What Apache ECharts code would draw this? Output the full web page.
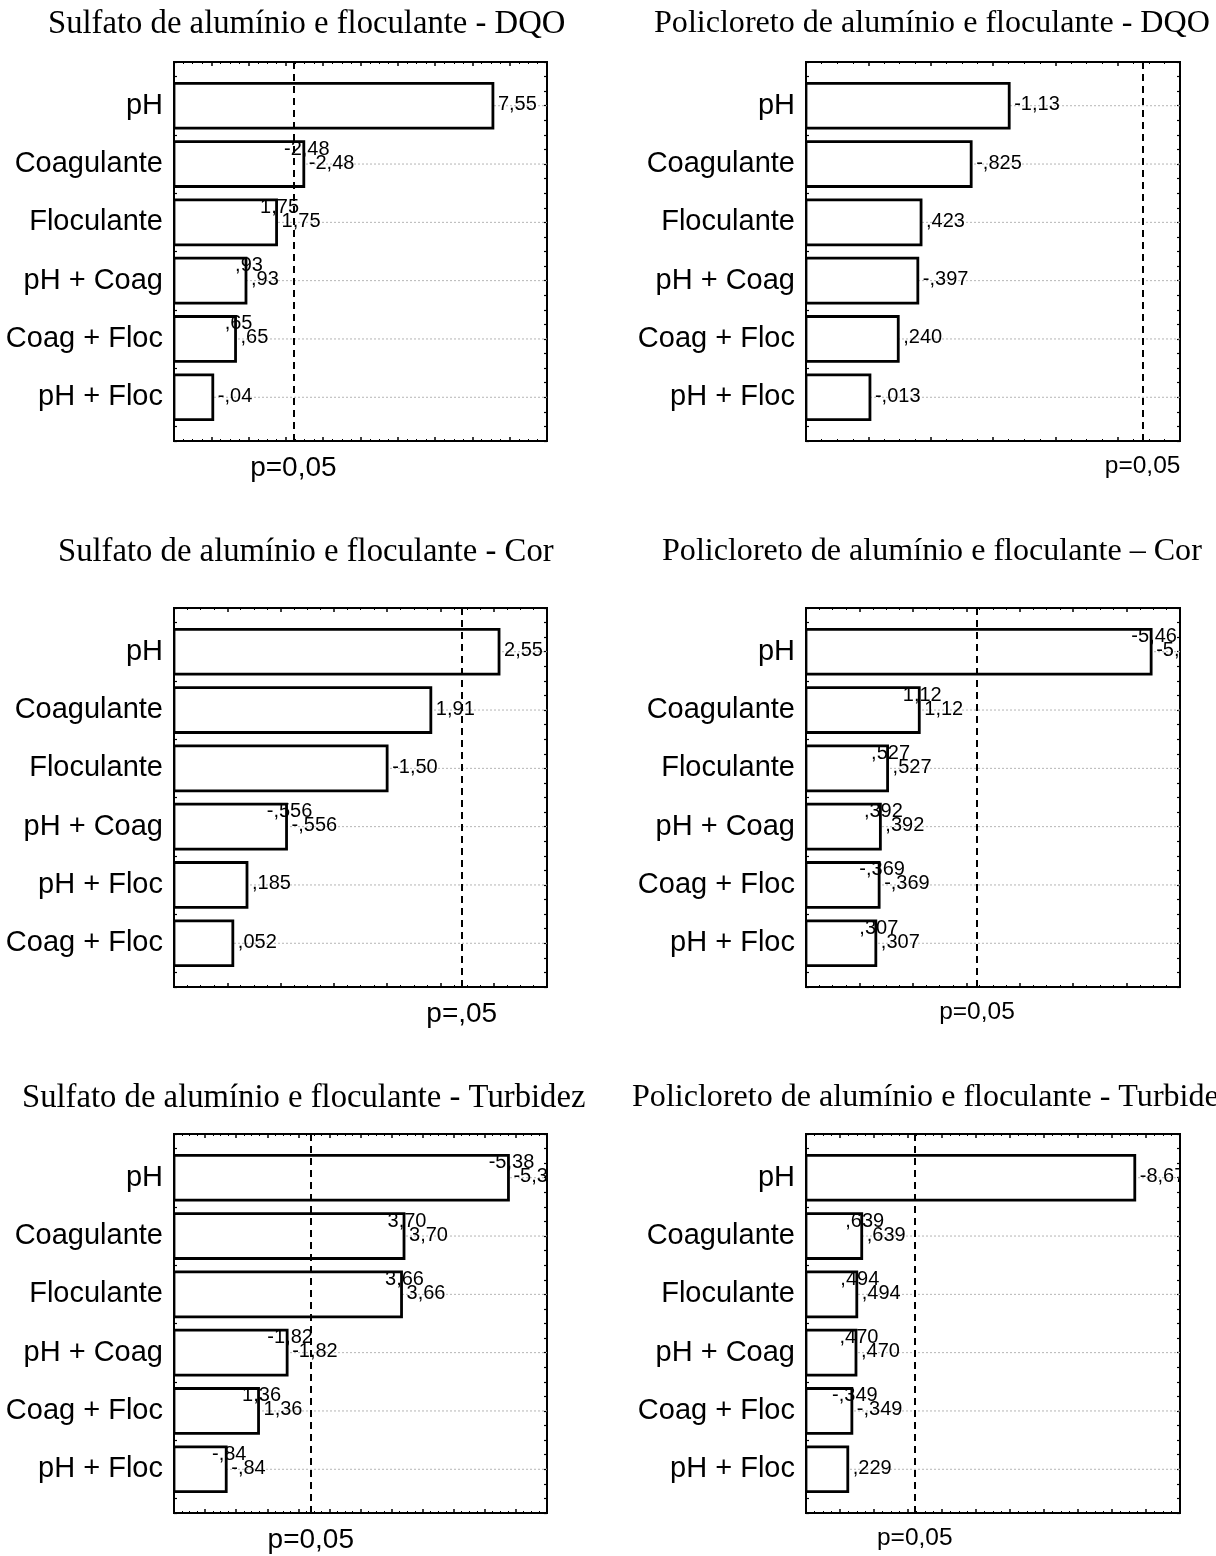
<!DOCTYPE html>
<html>
<head>
<meta charset="utf-8">
<script src="https://cdn.jsdelivr.net/npm/echarts@6/dist/echarts.min.js"></script>
<style>
html,body{margin:0;padding:0;background:#fff;}
#chart{width:1216px;height:1556px;}
</style>
</head>
<body>
<div id="chart"></div>
<script>
// ---------- DATA ----------
const titles = [
  'Sulfato de alumínio e floculante - DQO',
  'Policloreto de alumínio e floculante - DQO',
  'Sulfato de alumínio e floculante - Cor',
  'Policloreto de alumínio e floculante – Cor',
  'Sulfato de alumínio e floculante - Turbidez',
  'Policloreto de alumínio e floculante - Turbidez'
];

const sulfDqoCats   = ['pH', 'Coagulante', 'Floculante', 'pH + Coag', 'Coag + Floc', 'pH + Floc'];
const sulfDqoValues = [7.55, -2.48, 1.75, 0.93, 0.65, -0.04];
const sulfDqoDup    = [0, 1, 1, 1, 1, 0];

const pacDqoCats    = ['pH', 'Coagulante', 'Floculante', 'pH + Coag', 'Coag + Floc', 'pH + Floc'];
const pacDqoValues  = [-1.13, -0.825, 0.423, -0.397, 0.240, -0.013];
const pacDqoDup     = [0, 0, 0, 0, 0, 0];

const sulfCorCats   = ['pH', 'Coagulante', 'Floculante', 'pH + Coag', 'pH + Floc', 'Coag + Floc'];
const sulfCorValues = [2.55, 1.91, -1.50, -0.556, 0.185, 0.052];
const sulfCorDup    = [0, 0, 0, 1, 0, 0];

const pacCorCats    = ['pH', 'Coagulante', 'Floculante', 'pH + Coag', 'Coag + Floc', 'pH + Floc'];
const pacCorValues  = [-5.46, 1.12, 0.527, 0.392, -0.369, 0.307];
const pacCorDup     = [1, 1, 1, 1, 1, 1];

const sulfTurbCats   = ['pH', 'Coagulante', 'Floculante', 'pH + Coag', 'Coag + Floc', 'pH + Floc'];
const sulfTurbValues = [-5.38, 3.70, 3.66, -1.82, 1.36, -0.84];
const sulfTurbDup    = [1, 1, 1, 1, 1, 1];

const pacTurbCats    = ['pH', 'Coagulante', 'Floculante', 'pH + Coag', 'Coag + Floc', 'pH + Floc'];
const pacTurbValues  = [-8.67, 0.639, 0.494, 0.470, -0.349, 0.229];
const pacTurbDup     = [0, 1, 1, 1, 1, 0];

// significance threshold (t value at p = 0.05) and its labels
const critT = [2.2, 2.2, 2.2, 2.2, 2.2, 2.2];
const pLabels = ['p=0,05', 'p=0,05', 'p=,05', 'p=0,05', 'p=0,05', 'p=0,05'];

// x-axis scale per panel (no tick labels shown)
const xMins      = [-1, -0.5, -0.5, -1, 0, -1];
const xMaxs      = [9, 2.5, 3, 6, 6, 10];
const xIntervals = [1, 0.5, 0.5, 1, 0.5, 1];

// number format: 'fixed2' or 'auto'
const numFormats = ['fixed2', 'auto', 'auto', 'auto', 'fixed2', 'auto'];

const panelsData = [
  {cats: sulfDqoCats,  values: sulfDqoValues,  dup: sulfDqoDup},
  {cats: pacDqoCats,   values: pacDqoValues,   dup: pacDqoDup},
  {cats: sulfCorCats,  values: sulfCorValues,  dup: sulfCorDup},
  {cats: pacCorCats,   values: pacCorValues,   dup: pacCorDup},
  {cats: sulfTurbCats, values: sulfTurbValues, dup: sulfTurbDup},
  {cats: pacTurbCats,  values: pacTurbValues,  dup: pacTurbDup}
];

// ---------- LAYOUT ----------
const colLeft  = [174, 806];
const colWidth = [373, 374];
const rowTop   = [62, 608, 1134];
const rowHeight = 379;
const titleLeft = [48, 654, 58, 662, 22, 632];
const titleTop  = [8, 8, 536, 536, 1082, 1082];
const titleSize = [32.7, 32.1];
const yMin = -0.75, yMax = 5.75;

const SANS = '"Liberation Sans", Arial, Helvetica, sans-serif';
const SERIF = '"Liberation Serif", "Times New Roman", serif';

function fmt(v, mode) {
  const a = Math.abs(v);
  const d = mode === 'fixed2' ? 2 : (a >= 1 ? 2 : 3);
  let s = a.toFixed(d).replace('.', ',');
  if (s.startsWith('0,')) s = s.slice(1);
  return (v < 0 ? '-' : '') + s;
}

const option = {
  animation: false,
  backgroundColor: '#fff',
  title: [], grid: [], xAxis: [], yAxis: [], series: []
};

panelsData.forEach((pd, p) => {
  const col = p % 2, row = Math.floor(p / 2);
  const left = colLeft[col], top = rowTop[row];
  const isLeft = col === 0;
  const xMin = xMins[p], xMax = xMaxs[p];

  option.title.push({
    text: titles[p], left: titleLeft[p], top: titleTop[p], padding: 0,
    textStyle: {fontFamily: SERIF, fontSize: titleSize[col], fontWeight: 'normal', color: '#000'}
  });

  option.grid.push({
    left: left, top: top, width: colWidth[col], height: rowHeight,
    show: true, borderColor: '#000', borderWidth: 2, backgroundColor: 'transparent'
  });

  const tick = {show: true, inside: true, length: 4, lineStyle: {color: '#000', width: 1.5}};
  const minor = {show: true, splitNumber: 4, length: 2, lineStyle: {color: '#000', width: 1}};
  ['bottom', 'top'].forEach(pos => {
    option.xAxis.push({
      type: 'value', gridIndex: p, position: pos, min: xMin, max: xMax, interval: xIntervals[p],
      axisLine: {show: false, onZero: false}, axisTick: tick, minorTick: minor,
      axisLabel: {show: false}, splitLine: {show: false}
    });
  });
  ['left', 'right'].forEach(pos => {
    option.yAxis.push({
      type: 'value', gridIndex: p, position: pos, inverse: true, min: yMin, max: yMax, interval: 0.25,
      axisLine: {show: false, onZero: false},
      axisTick: {show: true, inside: true, length: 3, lineStyle: {color: '#000', width: 1.2}},
      splitLine: {show: false},
      axisLabel: pos === 'left' ? {
        show: true, margin: 11, color: '#000', fontFamily: SANS, fontSize: 29,
        formatter: function (val) {
          const k = Math.round(val);
          return (Math.abs(val - k) < 1e-6 && k >= 0 && k < pd.cats.length) ? pd.cats[k] : '';
        }
      } : {show: false}
    });
  });

  const xi = p * 2, yi = p * 2;
  const valFont = '20px ' + SANS;
  const mode = numFormats[p];

  option.series.push({
    type: 'custom',
    xAxisIndex: xi, yAxisIndex: yi,
    clip: true,
    encode: {x: 1, y: 0},
    data: pd.values.map((v, i) => [i, v, pd.dup[i]]),
    renderItem: function (params, api) {
      const i = api.value(0);
      const v = api.value(1);
      const dup = api.value(2);
      const start = api.coord([xMin, i]);
      const end = api.coord([Math.abs(v), i]);
      const right = api.coord([xMax, i]);
      const band = api.size([0, 1])[1];
      const h = band * 0.77;
      const txt = fmt(v, mode);
      const children = [
        {type: 'line', shape: {x1: start[0], y1: start[1], x2: right[0], y2: right[1]},
         style: {stroke: '#b5b5b5', lineWidth: 1, lineDash: [2, 2]}},
        {type: 'rect', shape: {x: start[0], y: start[1] - h / 2, width: end[0] - start[0], height: h},
         style: {fill: '#fff', stroke: '#000', lineWidth: 2.8}},
        {type: 'text', style: {text: txt, x: end[0] + 5, y: end[1] - 1, font: valFont, fill: '#000',
          align: 'left', verticalAlign: 'middle', textAlign: 'left', textVerticalAlign: 'middle'}}
      ];
      if (dup) {
        children.push({type: 'text', style: {text: txt, x: end[0] + 3, y: end[1] - 15, font: valFont, fill: '#000',
          align: 'center', verticalAlign: 'middle', textAlign: 'center', textVerticalAlign: 'middle'}});
      }
      return {type: 'group', children: children};
    },
    z: 2
  });

  option.series.push({
    type: 'line', xAxisIndex: xi, yAxisIndex: yi, data: [],
    markLine: {
      silent: true, symbol: ['none', 'none'], animation: false,
      lineStyle: {color: '#000', type: [7, 5], width: 2},
      label: {show: true, position: 'end', distance: 13, formatter: pLabels[p],
        color: '#000', fontFamily: SANS, fontSize: isLeft ? 28 : 24.5},
      data: [[{coord: [critT[p], yMin]}, {coord: [critT[p], yMax]}]]
    },
    z: 5
  });
});

const chart = echarts.init(document.getElementById('chart'));
chart.setOption(option);
</script>
</body>
</html>
